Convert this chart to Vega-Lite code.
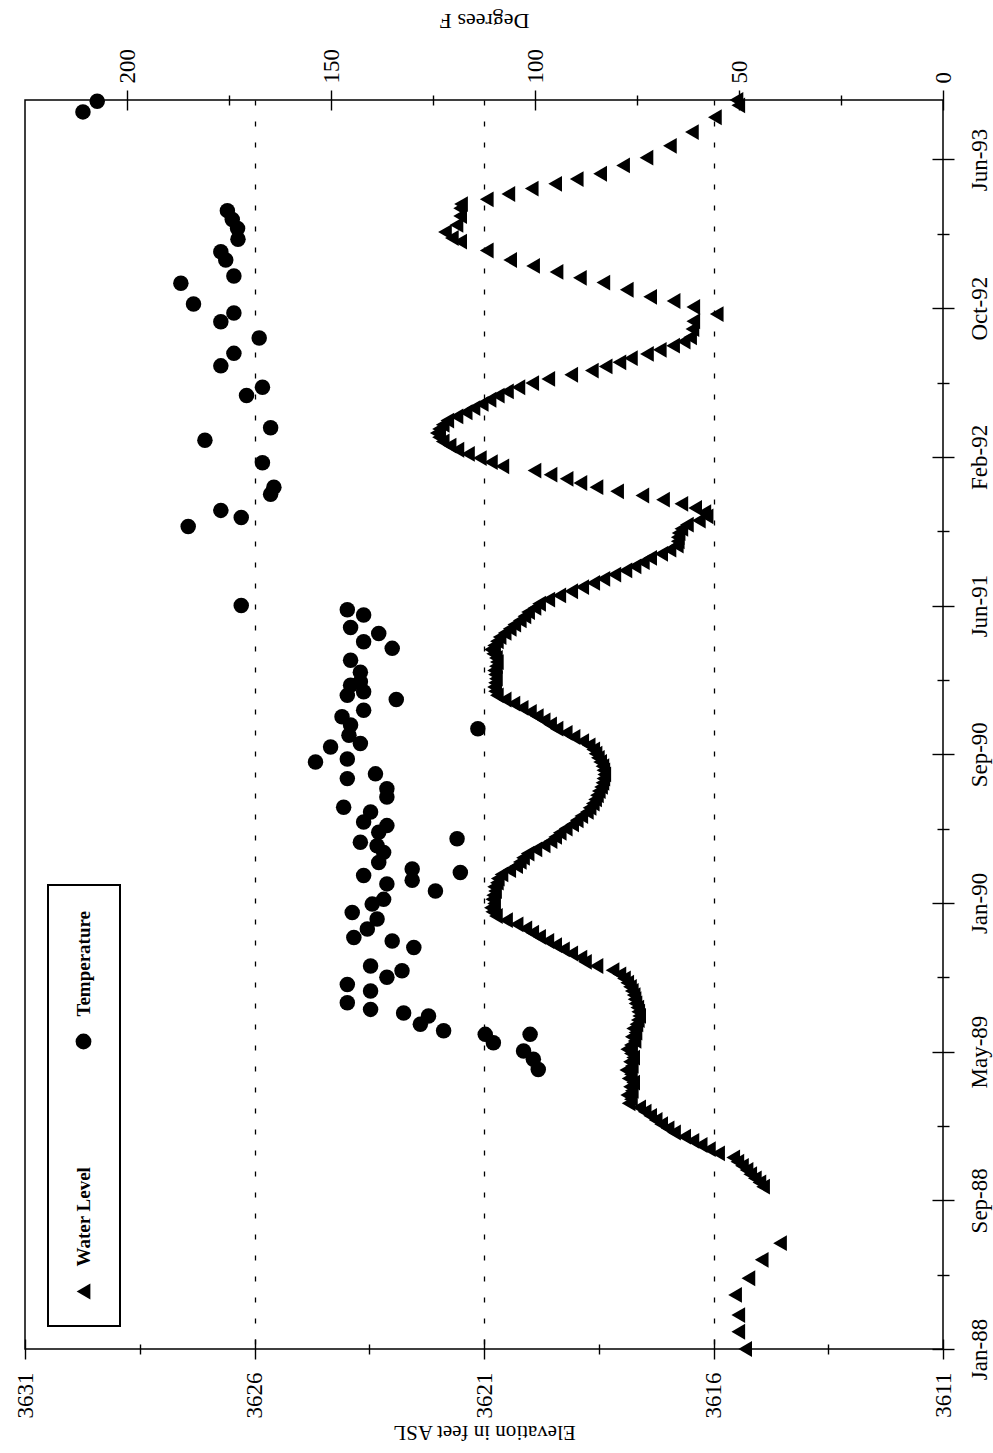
{
"$schema": "https://vega.github.io/schema/vega-lite/v6.json",
"width": 918,
"height": 1249,
"autosize": {"type": "none"},
"padding": {"left": 25, "top": 100, "right": 50, "bottom": 104},
"background": "white",
"config": {
  "view": {"stroke": "black", "strokeWidth": 1.5},
  "font": "Liberation Serif",
  "axis": {"grid": false, "labelFont": "Liberation Serif", "labelFontSize": 23, "labelColor": "black", "tickColor": "black", "tickWidth": 1.4, "titleFont": "Liberation Serif", "titleFontSize": 22, "titleFontWeight": "normal", "titleColor": "black", "labelFlush": false, "labelOverlap": false, "domain": false}
},
"datasets": {
  "water": [
    {"date": "1988-01-01", "elevation": 3615.31},
    {"date": "1988-01-30", "elevation": 3615.46},
    {"date": "1988-02-27", "elevation": 3615.46},
    {"date": "1988-04-01", "elevation": 3615.53},
    {"date": "1988-04-29", "elevation": 3615.24},
    {"date": "1988-05-30", "elevation": 3614.95},
    {"date": "1988-06-27", "elevation": 3614.55},
    {"date": "1988-09-30", "elevation": 3614.92},
    {"date": "1988-10-07", "elevation": 3615.00},
    {"date": "1988-10-14", "elevation": 3615.10},
    {"date": "1988-10-21", "elevation": 3615.20},
    {"date": "1988-10-28", "elevation": 3615.28},
    {"date": "1988-11-04", "elevation": 3615.38},
    {"date": "1988-11-11", "elevation": 3615.48},
    {"date": "1988-11-18", "elevation": 3615.57},
    {"date": "1988-11-25", "elevation": 3615.90},
    {"date": "1988-12-02", "elevation": 3616.10},
    {"date": "1988-12-09", "elevation": 3616.28},
    {"date": "1988-12-16", "elevation": 3616.46},
    {"date": "1988-12-23", "elevation": 3616.64},
    {"date": "1988-12-30", "elevation": 3616.86},
    {"date": "1989-01-06", "elevation": 3617.00},
    {"date": "1989-01-13", "elevation": 3617.14},
    {"date": "1989-01-20", "elevation": 3617.26},
    {"date": "1989-01-27", "elevation": 3617.38},
    {"date": "1989-02-03", "elevation": 3617.50},
    {"date": "1989-02-10", "elevation": 3617.62},
    {"date": "1989-02-17", "elevation": 3617.85},
    {"date": "1989-02-24", "elevation": 3617.80},
    {"date": "1989-03-03", "elevation": 3617.88},
    {"date": "1989-03-10", "elevation": 3617.78},
    {"date": "1989-03-17", "elevation": 3617.82},
    {"date": "1989-03-24", "elevation": 3617.75},
    {"date": "1989-03-31", "elevation": 3617.85},
    {"date": "1989-04-07", "elevation": 3617.80},
    {"date": "1989-04-14", "elevation": 3617.90},
    {"date": "1989-04-21", "elevation": 3617.78},
    {"date": "1989-04-28", "elevation": 3617.82},
    {"date": "1989-05-05", "elevation": 3617.75},
    {"date": "1989-05-12", "elevation": 3617.80},
    {"date": "1989-05-19", "elevation": 3617.88},
    {"date": "1989-05-26", "elevation": 3617.80},
    {"date": "1989-06-02", "elevation": 3617.72},
    {"date": "1989-06-09", "elevation": 3617.78},
    {"date": "1989-06-16", "elevation": 3617.70},
    {"date": "1989-06-23", "elevation": 3617.75},
    {"date": "1989-06-30", "elevation": 3617.68},
    {"date": "1989-07-07", "elevation": 3617.65},
    {"date": "1989-07-14", "elevation": 3617.62},
    {"date": "1989-07-21", "elevation": 3617.64},
    {"date": "1989-07-28", "elevation": 3617.66},
    {"date": "1989-08-04", "elevation": 3617.70},
    {"date": "1989-08-11", "elevation": 3617.72},
    {"date": "1989-08-18", "elevation": 3617.74},
    {"date": "1989-08-25", "elevation": 3617.78},
    {"date": "1989-09-01", "elevation": 3617.82},
    {"date": "1989-09-08", "elevation": 3617.88},
    {"date": "1989-09-15", "elevation": 3617.95},
    {"date": "1989-09-22", "elevation": 3618.05},
    {"date": "1989-09-29", "elevation": 3618.20},
    {"date": "1989-10-06", "elevation": 3618.55},
    {"date": "1989-10-13", "elevation": 3618.80},
    {"date": "1989-10-20", "elevation": 3618.90},
    {"date": "1989-10-27", "elevation": 3619.10},
    {"date": "1989-11-03", "elevation": 3619.28},
    {"date": "1989-11-10", "elevation": 3619.45},
    {"date": "1989-11-17", "elevation": 3619.62},
    {"date": "1989-11-24", "elevation": 3619.80},
    {"date": "1989-12-01", "elevation": 3619.95},
    {"date": "1989-12-08", "elevation": 3620.10},
    {"date": "1989-12-15", "elevation": 3620.29},
    {"date": "1989-12-22", "elevation": 3620.52},
    {"date": "1989-12-29", "elevation": 3620.74},
    {"date": "1990-01-05", "elevation": 3620.82},
    {"date": "1990-01-12", "elevation": 3620.85},
    {"date": "1990-01-19", "elevation": 3620.78},
    {"date": "1990-01-26", "elevation": 3620.82},
    {"date": "1990-02-02", "elevation": 3620.80},
    {"date": "1990-02-09", "elevation": 3620.76},
    {"date": "1990-02-16", "elevation": 3620.78},
    {"date": "1990-02-23", "elevation": 3620.72},
    {"date": "1990-03-02", "elevation": 3620.70},
    {"date": "1990-03-09", "elevation": 3620.62},
    {"date": "1990-03-16", "elevation": 3620.45},
    {"date": "1990-03-23", "elevation": 3620.30},
    {"date": "1990-03-30", "elevation": 3620.22},
    {"date": "1990-04-06", "elevation": 3620.15},
    {"date": "1990-04-13", "elevation": 3620.05},
    {"date": "1990-04-20", "elevation": 3619.88},
    {"date": "1990-04-27", "elevation": 3619.70},
    {"date": "1990-05-04", "elevation": 3619.55},
    {"date": "1990-05-11", "elevation": 3619.45},
    {"date": "1990-05-18", "elevation": 3619.35},
    {"date": "1990-05-25", "elevation": 3619.22},
    {"date": "1990-06-01", "elevation": 3619.08},
    {"date": "1990-06-08", "elevation": 3618.98},
    {"date": "1990-06-15", "elevation": 3618.88},
    {"date": "1990-06-22", "elevation": 3618.76},
    {"date": "1990-06-29", "elevation": 3618.70},
    {"date": "1990-07-06", "elevation": 3618.63},
    {"date": "1990-07-13", "elevation": 3618.58},
    {"date": "1990-07-20", "elevation": 3618.54},
    {"date": "1990-07-27", "elevation": 3618.50},
    {"date": "1990-08-03", "elevation": 3618.45},
    {"date": "1990-08-10", "elevation": 3618.42},
    {"date": "1990-08-17", "elevation": 3618.40},
    {"date": "1990-08-24", "elevation": 3618.38},
    {"date": "1990-08-31", "elevation": 3618.40},
    {"date": "1990-09-07", "elevation": 3618.42},
    {"date": "1990-09-14", "elevation": 3618.47},
    {"date": "1990-09-21", "elevation": 3618.52},
    {"date": "1990-09-28", "elevation": 3618.57},
    {"date": "1990-10-05", "elevation": 3618.62},
    {"date": "1990-10-12", "elevation": 3618.72},
    {"date": "1990-10-19", "elevation": 3618.86},
    {"date": "1990-10-26", "elevation": 3619.05},
    {"date": "1990-11-02", "elevation": 3619.22},
    {"date": "1990-11-09", "elevation": 3619.42},
    {"date": "1990-11-16", "elevation": 3619.56},
    {"date": "1990-11-23", "elevation": 3619.70},
    {"date": "1990-11-30", "elevation": 3619.85},
    {"date": "1990-12-07", "elevation": 3620.00},
    {"date": "1990-12-14", "elevation": 3620.18},
    {"date": "1990-12-21", "elevation": 3620.36},
    {"date": "1990-12-28", "elevation": 3620.55},
    {"date": "1991-01-04", "elevation": 3620.72},
    {"date": "1991-01-11", "elevation": 3620.76},
    {"date": "1991-01-18", "elevation": 3620.78},
    {"date": "1991-01-25", "elevation": 3620.76},
    {"date": "1991-02-01", "elevation": 3620.74},
    {"date": "1991-02-08", "elevation": 3620.76},
    {"date": "1991-02-15", "elevation": 3620.78},
    {"date": "1991-02-22", "elevation": 3620.74},
    {"date": "1991-03-01", "elevation": 3620.72},
    {"date": "1991-03-08", "elevation": 3620.74},
    {"date": "1991-03-15", "elevation": 3620.80},
    {"date": "1991-03-22", "elevation": 3620.85},
    {"date": "1991-03-29", "elevation": 3620.78},
    {"date": "1991-04-05", "elevation": 3620.72},
    {"date": "1991-04-12", "elevation": 3620.66},
    {"date": "1991-04-19", "elevation": 3620.55},
    {"date": "1991-04-26", "elevation": 3620.44},
    {"date": "1991-05-03", "elevation": 3620.34},
    {"date": "1991-05-10", "elevation": 3620.22},
    {"date": "1991-05-17", "elevation": 3620.12},
    {"date": "1991-05-24", "elevation": 3620.04},
    {"date": "1991-05-31", "elevation": 3619.90},
    {"date": "1991-06-07", "elevation": 3619.80},
    {"date": "1991-06-14", "elevation": 3619.60},
    {"date": "1991-06-21", "elevation": 3619.36},
    {"date": "1991-06-28", "elevation": 3619.10},
    {"date": "1991-07-05", "elevation": 3618.86},
    {"date": "1991-07-12", "elevation": 3618.62},
    {"date": "1991-07-19", "elevation": 3618.40},
    {"date": "1991-07-26", "elevation": 3618.16},
    {"date": "1991-08-02", "elevation": 3617.92},
    {"date": "1991-08-09", "elevation": 3617.72},
    {"date": "1991-08-16", "elevation": 3617.54},
    {"date": "1991-08-23", "elevation": 3617.38},
    {"date": "1991-08-30", "elevation": 3617.14},
    {"date": "1991-09-06", "elevation": 3616.96},
    {"date": "1991-09-13", "elevation": 3616.80},
    {"date": "1991-09-20", "elevation": 3616.78},
    {"date": "1991-09-27", "elevation": 3616.78},
    {"date": "1991-10-04", "elevation": 3616.76},
    {"date": "1991-10-11", "elevation": 3616.70},
    {"date": "1991-10-18", "elevation": 3616.58},
    {"date": "1991-10-25", "elevation": 3616.32},
    {"date": "1991-11-01", "elevation": 3616.15},
    {"date": "1991-11-08", "elevation": 3616.20},
    {"date": "1991-11-15", "elevation": 3616.40},
    {"date": "1991-11-22", "elevation": 3616.70},
    {"date": "1991-11-29", "elevation": 3617.10},
    {"date": "1991-12-06", "elevation": 3617.55},
    {"date": "1991-12-13", "elevation": 3618.10},
    {"date": "1991-12-20", "elevation": 3618.55},
    {"date": "1991-12-27", "elevation": 3618.90},
    {"date": "1992-01-03", "elevation": 3619.20},
    {"date": "1992-01-10", "elevation": 3619.55},
    {"date": "1992-01-17", "elevation": 3619.90},
    {"date": "1992-01-24", "elevation": 3620.60},
    {"date": "1992-01-31", "elevation": 3620.85},
    {"date": "1992-02-07", "elevation": 3621.09},
    {"date": "1992-02-14", "elevation": 3621.35},
    {"date": "1992-02-21", "elevation": 3621.58},
    {"date": "1992-02-28", "elevation": 3621.75},
    {"date": "1992-03-06", "elevation": 3621.90},
    {"date": "1992-03-13", "elevation": 3621.98},
    {"date": "1992-03-20", "elevation": 3622.03},
    {"date": "1992-03-27", "elevation": 3621.98},
    {"date": "1992-04-03", "elevation": 3621.90},
    {"date": "1992-04-10", "elevation": 3621.80},
    {"date": "1992-04-17", "elevation": 3621.60},
    {"date": "1992-04-24", "elevation": 3621.40},
    {"date": "1992-05-01", "elevation": 3621.23},
    {"date": "1992-05-08", "elevation": 3621.05},
    {"date": "1992-05-15", "elevation": 3620.88},
    {"date": "1992-05-22", "elevation": 3620.70},
    {"date": "1992-05-29", "elevation": 3620.50},
    {"date": "1992-06-05", "elevation": 3620.25},
    {"date": "1992-06-12", "elevation": 3619.95},
    {"date": "1992-06-19", "elevation": 3619.60},
    {"date": "1992-06-26", "elevation": 3619.10},
    {"date": "1992-07-03", "elevation": 3618.65},
    {"date": "1992-07-10", "elevation": 3618.35},
    {"date": "1992-07-17", "elevation": 3618.05},
    {"date": "1992-07-24", "elevation": 3617.80},
    {"date": "1992-07-31", "elevation": 3617.45},
    {"date": "1992-08-07", "elevation": 3617.17},
    {"date": "1992-08-14", "elevation": 3616.88},
    {"date": "1992-08-21", "elevation": 3616.65},
    {"date": "1992-08-28", "elevation": 3616.51},
    {"date": "1992-09-11", "elevation": 3616.46},
    {"date": "1992-09-24", "elevation": 3616.44},
    {"date": "1992-10-06", "elevation": 3615.93},
    {"date": "1992-10-18", "elevation": 3616.44},
    {"date": "1992-10-28", "elevation": 3616.87},
    {"date": "1992-11-04", "elevation": 3617.38},
    {"date": "1992-11-16", "elevation": 3617.89},
    {"date": "1992-11-28", "elevation": 3618.40},
    {"date": "1992-12-06", "elevation": 3618.91},
    {"date": "1992-12-16", "elevation": 3619.42},
    {"date": "1992-12-26", "elevation": 3619.93},
    {"date": "1993-01-05", "elevation": 3620.43},
    {"date": "1993-01-21", "elevation": 3620.94},
    {"date": "1993-02-05", "elevation": 3621.52},
    {"date": "1993-02-11", "elevation": 3621.70},
    {"date": "1993-02-21", "elevation": 3621.85},
    {"date": "1993-03-05", "elevation": 3621.60},
    {"date": "1993-03-20", "elevation": 3621.52},
    {"date": "1993-04-02", "elevation": 3621.52},
    {"date": "1993-04-09", "elevation": 3621.50},
    {"date": "1993-04-17", "elevation": 3620.94},
    {"date": "1993-04-26", "elevation": 3620.47},
    {"date": "1993-05-05", "elevation": 3619.96},
    {"date": "1993-05-13", "elevation": 3619.45},
    {"date": "1993-05-21", "elevation": 3618.98},
    {"date": "1993-05-30", "elevation": 3618.47},
    {"date": "1993-06-13", "elevation": 3617.97},
    {"date": "1993-06-26", "elevation": 3617.46},
    {"date": "1993-07-16", "elevation": 3616.95},
    {"date": "1993-08-08", "elevation": 3616.47},
    {"date": "1993-09-02", "elevation": 3615.97},
    {"date": "1993-09-22", "elevation": 3615.46},
    {"date": "1993-10-01", "elevation": 3615.50}
  ],
  "temp": [
    {"date": "1989-04-15", "degrees": 99.2},
    {"date": "1989-05-02", "degrees": 100.4},
    {"date": "1989-05-16", "degrees": 102.8},
    {"date": "1989-05-30", "degrees": 110.2},
    {"date": "1989-06-13", "degrees": 101.2},
    {"date": "1989-06-13", "degrees": 112.2},
    {"date": "1989-06-19", "degrees": 122.4},
    {"date": "1989-06-30", "degrees": 128.1},
    {"date": "1989-07-14", "degrees": 126.1},
    {"date": "1989-07-19", "degrees": 132.2},
    {"date": "1989-07-25", "degrees": 140.3},
    {"date": "1989-08-05", "degrees": 146.0},
    {"date": "1989-08-25", "degrees": 140.3},
    {"date": "1989-09-05", "degrees": 146.0},
    {"date": "1989-09-17", "degrees": 136.3},
    {"date": "1989-09-28", "degrees": 132.6},
    {"date": "1989-10-06", "degrees": 140.3},
    {"date": "1989-11-06", "degrees": 129.7},
    {"date": "1989-11-17", "degrees": 135.0},
    {"date": "1989-11-23", "degrees": 144.4},
    {"date": "1989-12-07", "degrees": 141.1},
    {"date": "1989-12-24", "degrees": 138.7},
    {"date": "1990-01-04", "degrees": 144.8},
    {"date": "1990-01-18", "degrees": 139.9},
    {"date": "1990-01-26", "degrees": 137.1},
    {"date": "1990-02-09", "degrees": 124.4},
    {"date": "1990-02-21", "degrees": 136.3},
    {"date": "1990-02-27", "degrees": 130.1},
    {"date": "1990-03-07", "degrees": 142.0},
    {"date": "1990-03-12", "degrees": 118.3},
    {"date": "1990-03-18", "degrees": 130.1},
    {"date": "1990-03-29", "degrees": 138.3},
    {"date": "1990-04-15", "degrees": 137.1},
    {"date": "1990-04-26", "degrees": 138.7},
    {"date": "1990-05-02", "degrees": 142.8},
    {"date": "1990-05-08", "degrees": 119.1},
    {"date": "1990-05-19", "degrees": 138.3},
    {"date": "1990-05-30", "degrees": 136.3},
    {"date": "1990-06-05", "degrees": 142.0},
    {"date": "1990-06-22", "degrees": 140.3},
    {"date": "1990-06-30", "degrees": 146.9},
    {"date": "1990-07-17", "degrees": 136.3},
    {"date": "1990-07-31", "degrees": 136.3},
    {"date": "1990-08-17", "degrees": 146.0},
    {"date": "1990-08-25", "degrees": 139.1},
    {"date": "1990-09-14", "degrees": 153.8},
    {"date": "1990-09-19", "degrees": 146.0},
    {"date": "1990-10-09", "degrees": 150.1},
    {"date": "1990-10-15", "degrees": 142.8},
    {"date": "1990-10-29", "degrees": 145.6},
    {"date": "1990-11-09", "degrees": 114.0},
    {"date": "1990-11-15", "degrees": 145.2},
    {"date": "1990-11-29", "degrees": 147.3},
    {"date": "1990-12-10", "degrees": 142.0},
    {"date": "1990-12-28", "degrees": 134.0},
    {"date": "1991-01-04", "degrees": 146.0},
    {"date": "1991-01-10", "degrees": 142.0},
    {"date": "1991-01-21", "degrees": 145.2},
    {"date": "1991-01-27", "degrees": 142.8},
    {"date": "1991-02-12", "degrees": 142.8},
    {"date": "1991-03-04", "degrees": 145.2},
    {"date": "1991-03-24", "degrees": 135.0},
    {"date": "1991-04-04", "degrees": 142.0},
    {"date": "1991-04-18", "degrees": 138.3},
    {"date": "1991-04-28", "degrees": 145.2},
    {"date": "1991-05-19", "degrees": 142.0},
    {"date": "1991-05-28", "degrees": 146.0},
    {"date": "1991-06-04", "degrees": 172.0},
    {"date": "1991-10-15", "degrees": 185.0},
    {"date": "1991-10-30", "degrees": 172.0},
    {"date": "1991-11-11", "degrees": 177.0},
    {"date": "1991-12-08", "degrees": 164.8},
    {"date": "1991-12-20", "degrees": 164.0},
    {"date": "1992-01-30", "degrees": 166.8},
    {"date": "1992-03-08", "degrees": 180.9},
    {"date": "1992-03-29", "degrees": 164.8},
    {"date": "1992-05-22", "degrees": 170.7},
    {"date": "1992-06-05", "degrees": 166.8},
    {"date": "1992-07-11", "degrees": 177.0},
    {"date": "1992-08-01", "degrees": 173.8},
    {"date": "1992-08-27", "degrees": 167.6},
    {"date": "1992-09-23", "degrees": 177.0},
    {"date": "1992-10-08", "degrees": 173.8},
    {"date": "1992-10-23", "degrees": 183.7},
    {"date": "1992-11-27", "degrees": 186.8},
    {"date": "1992-12-09", "degrees": 173.8},
    {"date": "1993-01-05", "degrees": 175.8},
    {"date": "1993-01-19", "degrees": 177.0},
    {"date": "1993-02-09", "degrees": 172.8},
    {"date": "1993-02-27", "degrees": 172.9},
    {"date": "1993-03-14", "degrees": 174.2},
    {"date": "1993-03-29", "degrees": 175.4},
    {"date": "1993-09-11", "degrees": 210.8},
    {"date": "1993-09-29", "degrees": 207.3}
  ]
},
"layer": [
  {
    "data": {"name": "water"},
    "mark": {"type": "point", "opacity": 0},
    "encoding": {
      "x": {"field": "elevation", "type": "quantitative", "scale": {"domain": [3611, 3631], "reverse": true, "zero": false, "nice": false},
        "axis": {"orient": "bottom", "values": [3616, 3621, 3626], "grid": true, "gridColor": "black", "gridDash": [5, 16], "gridWidth": 1.3, "gridOpacity": 1, "ticks": false, "labels": false, "domain": false, "title": null}},
      "y": {"field": "date", "type": "temporal", "scale": {"type": "utc", "domain": [{"year": 1988, "month": 1, "date": 1, "utc": true}, {"year": 1993, "month": 10, "date": 1, "utc": true}]}, "axis": null}
    }
  },
  {
    "data": {"name": "water"},
    "mark": {"type": "point", "opacity": 0},
    "encoding": {
      "x": {"field": "elevation", "type": "quantitative", "scale": {"domain": [3611, 3631], "reverse": true, "zero": false, "nice": false},
        "axis": {"orient": "bottom", "values": [3613.5, 3618.5, 3623.5, 3628.5], "offset": -5, "tickSize": 10, "labels": false, "domain": false, "title": null}},
      "y": {"field": "date", "type": "temporal", "scale": {"type": "utc", "domain": [{"year": 1988, "month": 1, "date": 1, "utc": true}, {"year": 1993, "month": 10, "date": 1, "utc": true}]},
        "axis": {"orient": "right", "values": [
          {"year": 1988, "month": 5, "date": 5, "utc": true},
          {"year": 1989, "month": 1, "date": 10, "utc": true},
          {"year": 1989, "month": 9, "date": 17, "utc": true},
          {"year": 1990, "month": 5, "date": 25, "utc": true},
          {"year": 1991, "month": 1, "date": 30, "utc": true},
          {"year": 1991, "month": 10, "date": 7, "utc": true},
          {"year": 1992, "month": 6, "date": 13, "utc": true},
          {"year": 1993, "month": 2, "date": 18, "utc": true}
        ], "offset": -6, "tickSize": 12, "labels": false, "domain": false, "title": null}}
    }
  },
  {
    "data": {"name": "temp"},
    "mark": {"type": "point", "opacity": 0},
    "encoding": {
      "x": {"field": "degrees", "type": "quantitative", "scale": {"domain": [0, 225], "reverse": true, "zero": false, "nice": false},
        "axis": {"orient": "top", "values": [25, 75, 125, 175], "offset": -5, "tickSize": 10, "labels": false, "domain": false, "title": null}},
      "y": {"field": "date", "type": "temporal", "scale": {"type": "utc", "domain": [{"year": 1988, "month": 1, "date": 1, "utc": true}, {"year": 1993, "month": 10, "date": 1, "utc": true}]}, "axis": null}
    }
  },
  {
    "data": {"name": "temp"},
    "mark": {"type": "point", "filled": true, "opacity": 1, "size": 240, "color": "black", "strokeWidth": 0},
    "encoding": {
      "x": {"field": "degrees", "type": "quantitative", "scale": {"domain": [0, 225], "reverse": true, "zero": false, "nice": false},
        "axis": {"orient": "top", "values": [0, 50, 100, 150, 200], "format": "d", "offset": -10, "tickSize": 20, "labelAngle": 270, "labelPadding": 7, "domain": false,
          "title": "Degrees F", "titleAngle": 180, "titleBaseline": "top", "titlePadding": 18}},
      "y": {"field": "date", "type": "temporal", "scale": {"type": "utc", "domain": [{"year": 1988, "month": 1, "date": 1, "utc": true}, {"year": 1993, "month": 10, "date": 1, "utc": true}]}, "axis": null},
      "shape": {"datum": "Temperature", "type": "nominal"}
    }
  },
  {
    "data": {"name": "water"},
    "mark": {"type": "point", "filled": true, "opacity": 1, "size": 250, "color": "black", "strokeWidth": 0},
    "encoding": {
      "x": {"field": "elevation", "type": "quantitative", "scale": {"domain": [3611, 3631], "reverse": true, "zero": false, "nice": false},
        "axis": {"orient": "bottom", "values": [3611, 3616, 3621, 3626, 3631], "format": "d", "offset": -10, "tickSize": 20, "labelAngle": 270, "labelPadding": 13, "domain": false,
          "title": "Elevation in feet ASL", "titleAngle": 180, "titleBaseline": "bottom", "titlePadding": 3, "titleFontSize": 21}},
      "y": {"field": "date", "type": "temporal", "scale": {"type": "utc", "domain": [{"year": 1988, "month": 1, "date": 1, "utc": true}, {"year": 1993, "month": 10, "date": 1, "utc": true}]},
        "axis": {"orient": "right", "values": [
          {"year": 1988, "month": 1, "date": 1, "utc": true},
          {"year": 1988, "month": 9, "date": 7, "utc": true},
          {"year": 1989, "month": 5, "date": 15, "utc": true},
          {"year": 1990, "month": 1, "date": 20, "utc": true},
          {"year": 1990, "month": 9, "date": 27, "utc": true},
          {"year": 1991, "month": 6, "date": 4, "utc": true},
          {"year": 1992, "month": 2, "date": 9, "utc": true},
          {"year": 1992, "month": 10, "date": 16, "utc": true},
          {"year": 1993, "month": 6, "date": 23, "utc": true}
        ], "format": "%b-%y", "offset": -11, "tickSize": 22, "labelAngle": 270, "labelAlign": "center", "labelBaseline": "top", "labelPadding": 14, "domain": false, "title": null}},
      "shape": {"datum": "Water Level", "type": "nominal",
        "scale": {"domain": ["Temperature", "Water Level"], "range": ["circle", "triangle-left"]},
        "legend": {"orient": "none", "legendX": 23, "legendY": 785, "direction": "vertical",
          "title": " ", "titleFontSize": 10, "titlePadding": 111,
          "strokeColor": "black", "fillColor": "white", "padding": 26, "rowPadding": 116,
          "symbolSize": 250, "symbolFillColor": "black", "symbolStrokeColor": "black", "symbolStrokeWidth": 0,
          "labelFont": "Liberation Serif", "labelFontSize": 19, "labelFontWeight": "bold", "labelColor": "black",
          "labelAlign": "left", "labelBaseline": "middle", "labelOffset": -9,
          "encoding": {"labels": {"angle": {"value": 270}, "dx": {"value": 25}}, "legend": {"strokeWidth": {"value": 2}}}}}
    }
  }
],
"resolve": {"scale": {"x": "independent"}, "axis": {"x": "independent", "y": "independent"}}
}
